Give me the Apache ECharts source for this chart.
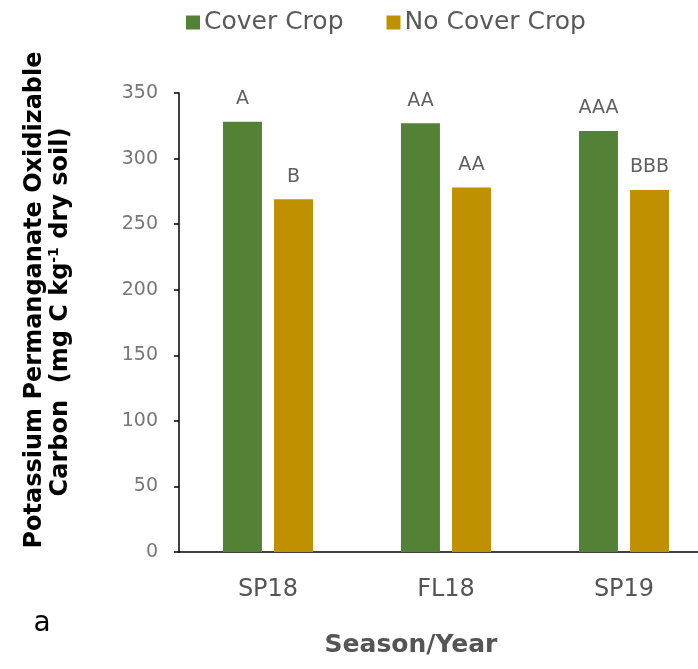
<!DOCTYPE html>
<html>
<head>
<meta charset="utf-8">
<script src="https://cdn.jsdelivr.net/npm/echarts@6/dist/echarts.min.js"></script>
<style>html,body{margin:0;padding:0;background:#fff;overflow:hidden;}#c{width:713px;height:669px;}</style>
</head>
<body>
<div id="c"></div>
<script>
const categories = ['SP18', 'FL18', 'SP19'];
const seriesNames = ['Cover Crop', 'No Cover Crop'];
const coverCrop = [328, 327, 321];
const noCoverCrop = [269, 278, 276];
const coverLetters = ['A', 'AA', 'AAA'];
const noCoverLetters = ['B', 'AA', 'BBB'];
const yTicks = { min: 0, max: 350, interval: 50 };

const FONT = 'DejaVu Sans';
const chart = echarts.init(document.getElementById('c'), null, { renderer: 'canvas' });

function labelFor(letters) {
  return {
    show: true, position: 'top', distance: 13,
    fontFamily: FONT, fontSize: 19, color: '#606060',
    formatter: p => letters[p.dataIndex]
  };
}

chart.setOption({
  animation: false,
  backgroundColor: '#fff',
  textStyle: { fontFamily: FONT },
  legend: {
    left: 181, top: 5, itemGap: 43, itemWidth: 14, itemHeight: 14,
    icon: 'rect',
    textStyle: { fontFamily: FONT, fontSize: 25, color: '#595959', padding: [0, 0, 0, -1] },
    data: seriesNames
  },
  grid: { left: 179, top: 93, right: 0, bottom: 117, containLabel: false },
  xAxis: {
    type: 'category', data: categories,
    axisLine: { lineStyle: { color: '#000', width: 1.5 } },
    axisTick: { show: false },
    axisLabel: { fontFamily: FONT, fontSize: 24, color: '#555', margin: 26 }
  },
  yAxis: {
    type: 'value', min: yTicks.min, max: yTicks.max, interval: yTicks.interval,
    axisLine: { show: true, lineStyle: { color: '#000', width: 1.5 } },
    axisTick: { show: true, length: 5, lineStyle: { color: '#000', width: 1.5 } },
    splitLine: { show: false },
    axisLabel: { fontFamily: FONT, fontSize: 19, color: '#777', margin: 21 }
  },
  series: [
    { name: seriesNames[0], type: 'bar', data: coverCrop, barWidth: 39, barGap: '31%',
      itemStyle: { color: '#538135' }, label: labelFor(coverLetters) },
    { name: seriesNames[1], type: 'bar', data: noCoverCrop, barWidth: 39,
      itemStyle: { color: '#BF9000' }, label: labelFor(noCoverLetters) }
  ],
  graphic: [
    { type: 'text', x: 35, y: 300, rotation: Math.PI / 2,
      style: { text: 'Potassium Permanganate Oxidizable', font: 'bold 24px "DejaVu Sans"',
        fill: '#000', align: 'center', verticalAlign: 'middle' } },
    { type: 'text', x: 61, y: 312, rotation: Math.PI / 2,
      style: { text: 'Carbon  (mg C kg{sup|-1} dry soil)', font: 'bold 24px "DejaVu Sans"',
        fill: '#000', align: 'center', verticalAlign: 'middle', lineHeight: 27,
        rich: { sup: { font: 'bold 14px "DejaVu Sans"', fill: '#000', verticalAlign: 'top', lineHeight: 15 } } } },
    { type: 'text', x: 411, y: 645,
      style: { text: 'Season/Year', font: 'bold 25px "DejaVu Sans"', fill: '#555',
        align: 'center', verticalAlign: 'middle' } },
    { type: 'text', x: 42, y: 624,
      style: { text: 'a', font: '28px "DejaVu Sans"', fill: '#000',
        align: 'center', verticalAlign: 'middle' } }
  ]
});
</script>
</body>
</html>
